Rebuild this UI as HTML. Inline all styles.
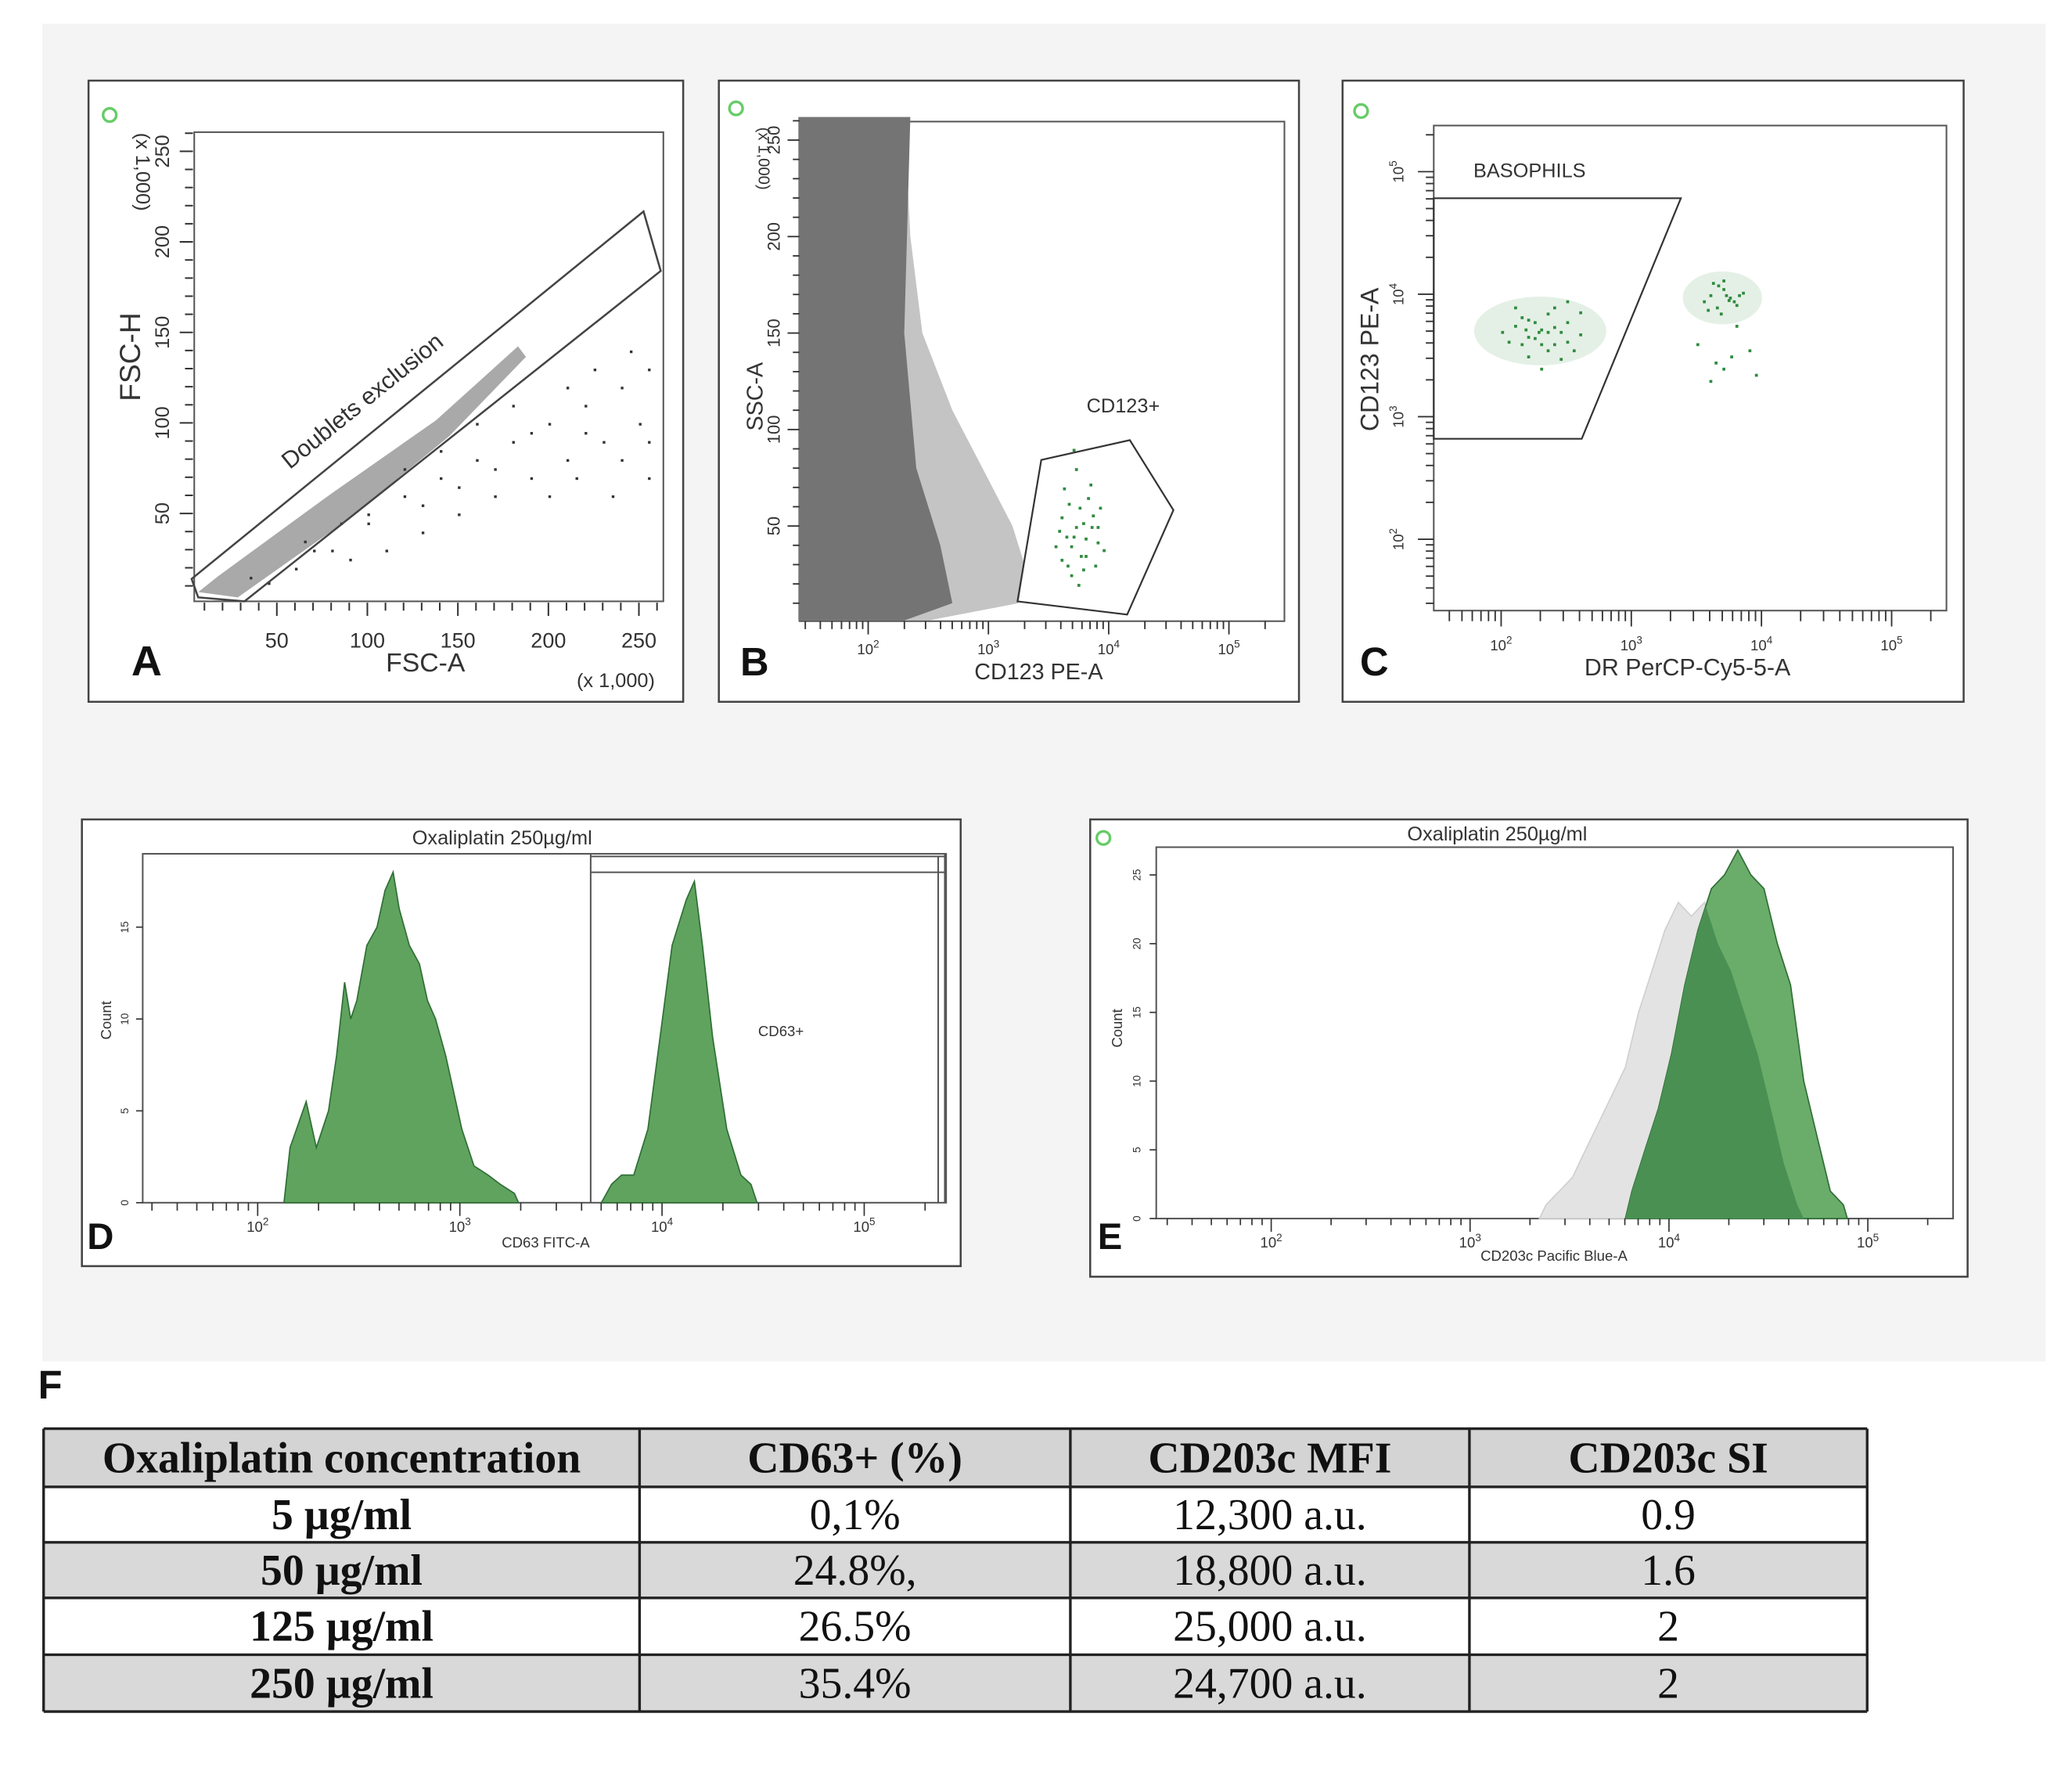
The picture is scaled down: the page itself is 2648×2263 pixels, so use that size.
<!DOCTYPE html>
<html><head><meta charset="utf-8"><style>
html,body{margin:0;padding:0;background:#fff;}
svg{display:block;}
</style></head><body>
<svg id="fig" xmlns="http://www.w3.org/2000/svg" width="2648" height="2263" viewBox="0 0 1568 1340" preserveAspectRatio="none" font-family="Liberation Sans, sans-serif">
<rect x="32" y="18" width="1516" height="1012" fill="#f4f4f4"/>
<g id="A"></g>
<g id="B"></g>
<g id="C"></g>
<g id="D"></g>
<g id="E"></g>
<g id="F"></g>
</svg>
<script>
// ---------- DATA ----------
const aSparseX=[100,120,140,160,180,200,220,240,250,230,210,190,170,150,130,110,90,200,240,255,255,180,160,140,120,100,80,220,245,210,190,170,150,130,60,70,235,215,225,255,65,85,45,35];
const aSparseY=[50,60,70,80,90,100,110,120,100,90,80,70,60,50,40,30,25,60,80,130,90,110,100,85,75,45,30,95,140,120,95,75,65,55,20,30,60,70,130,70,35,45,12,15];
const aTicksX=[50,100,150,200,250];
const aTicksY=[50,100,150,200,250];
const bTicksX=[2,3,4,5];
const bTicksY=[50,100,150,200,250];
const bOuterLog=[1.42,2.30,2.35,2.45,2.70,2.95,3.20,3.30,3.25,2.50,1.42];
const bOuterK=[262,262,200,150,110,80,50,30,10,1,1];
const bInnerLog=[1.42,2.35,2.30,2.40,2.60,2.70,2.30,1.42];
const bInnerK=[262,262,150,80,40,10,1,1];
const bGreenLog=[3.55,3.6,3.65,3.7,3.75,3.8,3.85,3.9,3.95,3.62,3.68,3.72,3.78,3.82,3.88,3.58,3.66,3.74,3.8,3.86,3.7,3.76,3.64,3.92,3.6,3.84,3.72,3.78,3.68,3.9];
const bGreenK=[40,55,30,45,60,35,50,42,38,70,25,80,52,65,30,48,62,20,44,56,90,35,45,60,33,72,50,28,40,50];
const cTicks=[2,3,4,5];
const cG1x=[2.0,2.1,2.15,2.2,2.25,2.3,2.35,2.4,2.45,2.5,2.55,2.6,2.1,2.2,2.3,2.4,2.5,2.25,2.35,2.15,2.45,2.3,2.2,2.4,2.05,2.6,2.35,2.28,2.18,2.5];
const cG1y=[3.7,3.75,3.6,3.8,3.65,3.72,3.85,3.6,3.7,3.78,3.55,3.68,3.9,3.5,3.6,3.9,3.62,3.78,3.7,3.82,3.48,3.4,3.66,3.74,3.62,3.86,3.55,3.7,3.72,3.95];
const cG2x=[3.55,3.6,3.65,3.7,3.75,3.8,3.85,3.62,3.68,3.72,3.78,3.58,3.66,3.74,3.82,3.7,3.76,3.64,3.9,3.5,3.95,3.6,3.8,3.7];
const cG2y=[3.95,4.0,3.9,4.05,3.98,3.92,4.02,4.1,3.85,4.0,3.95,3.88,4.08,3.96,4.0,3.4,3.5,3.45,3.55,3.6,3.35,3.3,3.75,4.12];
const dTicks=[2,3,4,5];
const dLeftLog=[2.13,2.16,2.24,2.29,2.35,2.39,2.43,2.46,2.49,2.54,2.59,2.63,2.67,2.70,2.75,2.80,2.84,2.88,2.93,2.97,3.01,3.07,3.14,3.20,3.27,3.29];
const dLeftCount=[0,3,5.5,3,5,8,12,10,11,14,15,17,18,16,14,13,11,10,8,6,4,2,1.5,1,0.5,0];
const dRightLog=[3.70,3.75,3.80,3.86,3.93,3.99,4.05,4.12,4.16,4.20,4.25,4.32,4.39,4.44,4.47];
const dRightCount=[0,1,1.5,1.5,4,9,14,16.5,17.5,14,9,4,1.5,1,0];
const eTicks=[2,3,4,5];
const eGrayLog=[3.349,3.382,3.449,3.515,3.581,3.648,3.714,3.781,3.847,3.914,3.980,4.047,4.113,4.179,4.246,4.312,4.379,4.445,4.512,4.578,4.645,4.678];
const eGrayCount=[0,1,2,3,5,7,9,11,15,18,21,23,22,23,20,18,15,12,8,4,1,0];
const eGreenLog=[3.781,3.814,3.880,3.947,4.013,4.080,4.146,4.213,4.279,4.346,4.412,4.478,4.545,4.611,4.678,4.744,4.811,4.877,4.897];
const eGreenCount=[0,2,5,8,12,17,21,24,25,26.8,25,24,20,17,10,6,2,1,0];
const tableHeader=["Oxaliplatin concentration","CD63+ (%)","CD203c MFI","CD203c SI"];
const tableConc=["5 µg/ml","50 µg/ml","125 µg/ml","250 µg/ml"];
const tableCD63=["0,1%","24.8%,","26.5%","35.4%"];
const tableMFI=["12,300 a.u.","18,800 a.u.","25,000 a.u.","24,700 a.u."];
const tableSI=["0.9","1.6","2","2"];

const NS="http://www.w3.org/2000/svg";
function mk(parent,tag,attrs,txt){const e=document.createElementNS(NS,tag);for(const k in attrs)e.setAttribute(k,attrs[k]);if(txt!==undefined)e.textContent=txt;parent.appendChild(e);return e;}
function pts(xs,ys,fx,fy){return xs.map((v,i)=>fx(v).toFixed(1)+","+fy(ys[i]).toFixed(1)).join(" ");}
function logMinor(lo,hi){const r=[];for(let n=Math.floor(lo);n<=hi;n++)for(let k=1;k<10;k++){const v=n+Math.log10(k);if(v>=lo&&v<=hi)r.push(v);}return r;}
function frame(g,x,y,w,h,name){const r=mk(g,"rect",{x:x,y:y,width:w,height:h,fill:"#fff",stroke:"#444","stroke-width":1.5});return r;}
function plot(g,x,y,w,h,name){const r=mk(g,"rect",{x:x,y:y,width:w,height:h,fill:"#fff",stroke:"#555","stroke-width":1.2});return r;}
function txt(g,x,y,s,size,name,extra){const a=Object.assign({x:x,y:y,"font-size":size,fill:"#333","text-anchor":"middle"},extra||{});const t=mk(g,"text",a,s);return t;}
function dot(g,cx,cy){const c=mk(g,"circle",{cx:cx,cy:cy,r:5,fill:"none",stroke:"#6c6","stroke-width":2});}
function sup(g,x,y,e,name){const t=txt(g,x,y,"10",11,name);const s=mk(t,"tspan",{dy:-5,"font-size":8},String(e));}

// ---------- PANEL A ----------
(function(){const g=document.getElementById("A");
frame(g,67,61,450,470,"panel-a-frame");dot(g,83,87);
plot(g,147,100,355,355,"panel-a-plot-area");
const fx=v=>141+v*1.37, fy=v=>457-v*1.37;
const band=mk(g,"polygon",{points:"150,448 165,436 250,374 330,318 392,262 398,270 340,330 262,394 180,452",fill:"#9a9a9a",opacity:0.85});


aSparseX.forEach((v,i)=>{const c=mk(g,"rect",{x:fx(v),y:fy(aSparseY[i]),width:2,height:2,fill:"#333"});

});
const gate=mk(g,"polygon",{points:"145,438 487,160 500,205 185,455 150,452",fill:"none",stroke:"#444","stroke-width":1.5});


txt(g,278,308,"Doublets exclusion",18,"gate-label",{transform:"rotate(-39 278 308)"});
for(let v=10;v<=260;v+=10){const t=mk(g,"line",{x1:fx(v),x2:fx(v),y1:456,y2:v%50?462:466,stroke:"#333","stroke-width":1.2});
const u=mk(g,"line",{x1:146,x2:v%50?140:136,y1:fy(v),y2:fy(v),stroke:"#333","stroke-width":1.2});}
aTicksX.forEach(v=>txt(g,fx(v),490,String(v),16,"x-tick-label"));
aTicksY.forEach(v=>txt(g,128,fy(v),String(v),15,"y-tick-label",{transform:`rotate(-90 128 ${fy(v)})`}));
txt(g,322,508,"FSC-A",20,"x-axis-title");
txt(g,466,520,"(x 1,000)",15,"x-axis-unit");
txt(g,106,270,"FSC-H",22,"y-axis-title",{transform:"rotate(-90 106 270)"});
txt(g,103,130,"(x 1,000)",15,"y-axis-unit",{transform:"rotate(90 103 130)"});
txt(g,111,511,"A",32,"panel-letter",{"font-weight":"bold",fill:"#111"});
})();

// ---------- PANEL B ----------
(function(){const g=document.getElementById("B");
frame(g,544,61,439,470,"panel-b-frame");dot(g,557,82);
plot(g,605,92,367,378,"panel-b-plot-area");
const fx=v=>657+(v-2)*91, fy=v=>471-v*1.46;
const o=mk(g,"polygon",{points:pts(bOuterLog,bOuterK,fx,fy),fill:"#b5b5b5",opacity:0.8});


const i=mk(g,"polygon",{points:pts(bInnerLog,bInnerK,fx,fy),fill:"#747474"});


bGreenLog.forEach((v,k)=>{const c=mk(g,"rect",{x:fx(v),y:fy(bGreenK[k]),width:2.2,height:2.2,fill:"#2e8b3e"});

});
const gate=mk(g,"polygon",{points:"788,348 855,333 888,386 853,465 770,455",fill:"none",stroke:"#333","stroke-width":1.3});


txt(g,850,312,"CD123+",15,"gate-label");
logMinor(1.45,5.35).forEach(v=>{const t=mk(g,"line",{x1:fx(v),x2:fx(v),y1:470,y2:Math.abs(v-Math.round(v))<1e-6?480:476,stroke:"#333","stroke-width":1.1});});
for(let v=10;v<=260;v+=10){const u=mk(g,"line",{x1:605,x2:v%50?600:596,y1:fy(v),y2:fy(v),stroke:"#333","stroke-width":1.1});}
bTicksX.forEach(v=>sup(g,fx(v),495,v,"x-tick-label"));
bTicksY.forEach(v=>txt(g,590,fy(v),String(v),13,"y-tick-label",{transform:`rotate(-90 590 ${fy(v)})`}));
txt(g,786,514,"CD123 PE-A",17,"x-axis-title");
txt(g,577,300,"SSC-A",17,"y-axis-title",{transform:"rotate(-90 577 300)"});
txt(g,574,120,"(x 1,000)",12,"y-axis-unit",{transform:"rotate(90 574 120)"});
txt(g,571,511,"B",30,"panel-letter",{"font-weight":"bold",fill:"#111"});
})();

// ---------- PANEL C ----------
(function(){const g=document.getElementById("C");
frame(g,1016,61,470,470,"panel-c-frame");dot(g,1030,84);
plot(g,1085,95,388,367,"panel-c-plot-area");
const fx=v=>1136+(v-2)*98.5, fy=v=>408-(v-2)*92.7;
[[2.3,3.7,50,26],[3.7,3.97,30,20]].forEach(c=>{const e=mk(g,"ellipse",{cx:fx(c[0]),cy:fy(c[1]),rx:c[2],ry:c[3],fill:"#4c9a55",opacity:0.15});});
cG1x.forEach((v,k)=>{const c=mk(g,"rect",{x:fx(v),y:fy(cG1y[k]),width:2.2,height:2.2,fill:"#2e8b3e"});

});
cG2x.forEach((v,k)=>{const c=mk(g,"rect",{x:fx(v),y:fy(cG2y[k]),width:2.2,height:2.2,fill:"#2e8b3e"});

});
const gate=mk(g,"polygon",{points:"1085,150 1272,150 1197,332 1085,332",fill:"none",stroke:"#333","stroke-width":1.3});


txt(g,1115,134,"BASOPHILS",15,"gate-label",{"text-anchor":"start"});
logMinor(1.5,5.35).forEach(v=>{const t=mk(g,"line",{x1:fx(v),x2:fx(v),y1:462,y2:Math.abs(v-Math.round(v))<1e-6?474:470,stroke:"#333","stroke-width":1.1});});
logMinor(1.4,5.35).forEach(v=>{const u=mk(g,"line",{x1:1085,x2:Math.abs(v-Math.round(v))<1e-6?1073:1079,y1:fy(v),y2:fy(v),stroke:"#333","stroke-width":1.1});});
cTicks.forEach(v=>{sup(g,fx(v),492,v,"x-tick-label");const t=txt(g,1062,fy(v),"10",11,"y-tick-label",{transform:`rotate(-90 1062 ${fy(v)})`});mk(t,"tspan",{dy:-5,"font-size":8},String(v));});
txt(g,1277,511,"DR PerCP-Cy5-5-A",18,"x-axis-title");
txt(g,1043,272,"CD123 PE-A",19,"y-axis-title",{transform:"rotate(-90 1043 272)"});
txt(g,1040,511,"C",30,"panel-letter",{"font-weight":"bold",fill:"#111"});
})();

// ---------- PANEL D ----------
(function(){const g=document.getElementById("D");
frame(g,62,620,665,338,"panel-d-frame");
plot(g,108,646,608,264,"panel-d-plot-area");
const fx=v=>195+(v-2)*153, fy=v=>910-v*13.9;
function area(xs,ys,name){const p=mk(g,"polygon",{points:pts(xs,ys,fx,fy),fill:"#5fa35f",stroke:"#2f6f35","stroke-width":1});}
area(dLeftLog,dLeftCount,"cd63-negative-histogram");
area(dRightLog,dRightCount,"cd63-positive-histogram");
const gl=mk(g,"path",{d:"M447,646 V910 M447,648 H715 M447,660 H715 M710,648 V910 M715,646 V910",fill:"none",stroke:"#555","stroke-width":1.2});


txt(g,591,784,"CD63+",11,"gate-label");
txt(g,380,639,"Oxaliplatin 250µg/ml",15,"panel-d-title");
logMinor(1.45,5.4).forEach(v=>{const t=mk(g,"line",{x1:fx(v),x2:fx(v),y1:910,y2:Math.abs(v-Math.round(v))<1e-6?920:916,stroke:"#333","stroke-width":1});});
[0,5,10,15].forEach(v=>{const u=mk(g,"line",{x1:108,x2:103,y1:fy(v),y2:fy(v),stroke:"#333"});
txt(g,97,fy(v),String(v),8,"y-tick-label",{transform:`rotate(-90 97 ${fy(v)})`});});
dTicks.forEach(v=>sup(g,fx(v),932,v,"x-tick-label"));
txt(g,413,944,"CD63 FITC-A",11,"x-axis-title");
txt(g,84,772,"Count",11,"y-axis-title",{transform:"rotate(-90 84 772)"});
txt(g,76,945,"D",28,"panel-letter",{"font-weight":"bold",fill:"#111"});
})();

// ---------- PANEL E ----------
(function(){const g=document.getElementById("E");
frame(g,825,620,664,346,"panel-e-frame");dot(g,835,634);
plot(g,875,641,603,281,"panel-e-plot-area");
const fx=v=>962+(v-2)*150.5, fy=v=>922-v*10.4;
const defs=mk(g,"defs",{});const cp=mk(defs,"clipPath",{id:"greenClip"});
mk(cp,"polygon",{points:pts(eGreenLog,eGreenCount,fx,fy)});
const gr=mk(g,"polygon",{points:pts(eGrayLog,eGrayCount,fx,fy),fill:"#e3e3e3",stroke:"#d0d0d0"});


const gn=mk(g,"polygon",{points:pts(eGreenLog,eGreenCount,fx,fy),fill:"#6aac6a",stroke:"#2f6f35","stroke-width":1});


const ov=mk(g,"polygon",{points:pts(eGrayLog,eGrayCount,fx,fy),fill:"#4a9052","clip-path":"url(#greenClip)"});


txt(g,1133,636,"Oxaliplatin 250µg/ml",15,"panel-e-title");
logMinor(1.45,5.4).forEach(v=>{const t=mk(g,"line",{x1:fx(v),x2:fx(v),y1:922,y2:Math.abs(v-Math.round(v))<1e-6?932:927,stroke:"#333","stroke-width":1});});
[0,5,10,15,20,25].forEach(v=>{const u=mk(g,"line",{x1:875,x2:870,y1:fy(v),y2:fy(v),stroke:"#333"});
txt(g,863,fy(v),String(v),8,"y-tick-label",{transform:`rotate(-90 863 ${fy(v)})`});});
eTicks.forEach(v=>sup(g,fx(v),944,v,"x-tick-label"));
txt(g,1176,954,"CD203c Pacific Blue-A",11,"x-axis-title");
txt(g,849,778,"Count",11,"y-axis-title",{transform:"rotate(-90 849 778)"});
txt(g,840,945,"E",28,"panel-letter",{"font-weight":"bold",fill:"#111"});
})();

// ---------- TABLE F ----------
(function(){const g=document.getElementById("F");
txt(g,38,1058,"F",30,"panel-letter",{"font-weight":"bold",fill:"#111"});
const cols=[33,484,810,1112,1413], rows=[1081,1125,1167,1209,1252,1295];
const fills=["#d4d4d4","#ffffff","#d9d9d9","#ffffff","#d9d9d9"];
for(let r=0;r<5;r++){const b=mk(g,"rect",{x:33,y:rows[r],width:1380,height:rows[r+1]-rows[r],fill:fills[r]});}
const body=[tableConc,tableCD63,tableMFI,tableSI];
for(let r=0;r<5;r++)for(let c=0;c<4;c++){
const s=r===0?tableHeader[c]:body[c][r-1];
const bold=(r===0||c===0);
const t=mk(g,"text",{x:(cols[c]+cols[c+1])/2,y:(rows[r]+rows[r+1])/2+11,"font-size":33,"font-family":"Liberation Serif, serif","font-weight":bold?"bold":"normal","text-anchor":"middle",fill:"#111"},s);

}
let d="";rows.forEach(y=>d+=`M33,${y} H1413 `);cols.forEach(x=>d+=`M${x},1081 V1295 `);
const gl=mk(g,"path",{d:d,stroke:"#222","stroke-width":2,fill:"none"});


})();
</script>
</body></html>
